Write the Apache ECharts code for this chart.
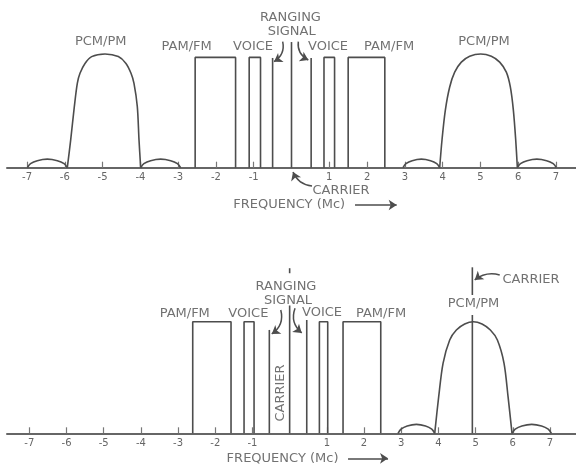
<!DOCTYPE html>
<html><head><meta charset="utf-8">
<script src="https://cdn.jsdelivr.net/npm/echarts@6/dist/echarts.min.js"></script>
<style>html,body{margin:0;padding:0;background:#fff}#c{width:576px;height:464px}</style>
</head><body><div id="c"></div>
<script>
// ---------- tick labels ----------
const tickValues = [-7,-6,-5,-4,-3,-2,-1,1,2,3,4,5,6,7];
const tickLabels = ['-7','-6','-5','-4','-3','-2','-1','1','2','3','4','5','6','7'];

// ---------- TOP panel (values: frequency Mc, relative amplitude) ----------
// rectangles: [fStart, fEnd, height]
const topRects = [[-2.55,-1.48,0.97],[-1.12,-0.82,0.97],[0.86,1.14,0.97],[1.50,2.47,0.97]];
// vertical lines: [f, height]
const topLines = [[-0.50,0.965],[0,1.105],[0.52,0.965]];
// PCM/PM main lobes
const topLobeL = [[-5.934,0],[-5.845,0.243],[-5.748,0.537],[-5.669,0.742],[-5.598,0.83],[-5.466,0.917],[-5.289,0.977],[-4.936,1.0],[-4.584,0.977],[-4.381,0.917],[-4.248,0.83],[-4.169,0.742],[-4.081,0.537],[-4.036,0.243],[-3.992,0]];
const topLobeR = [[3.922,0],[3.984,0.246],[4.072,0.507],[4.187,0.71],[4.319,0.84],[4.495,0.928],[4.716,0.98],[5.007,1.0],[5.289,0.98],[5.51,0.928],[5.686,0.84],[5.792,0.71],[5.872,0.507],[5.934,0.246],[5.978,0]];
// side lobes
const topSide = [
  [[-6.992,0],[-6.907,0.035],[-6.728,0.062],[-6.463,0.075],[-6.198,0.062],[-6.019,0.035],[-5.934,0]],
  [[-3.992,0],[-3.907,0.035],[-3.728,0.062],[-3.463,0.075],[-3.198,0.062],[-3.019,0.035],[-2.934,0]],
  [[2.951,0],[3.029,0.035],[3.194,0.062],[3.437,0.075],[3.68,0.062],[3.844,0.035],[3.922,0]],
  [[5.978,0],[6.061,0.035],[6.236,0.062],[6.494,0.075],[6.752,0.062],[6.927,0.035],[7.01,0]]
];
// arrows: [[f1,v1],[f2,v2],curveness]
const topArrows = [
  [[-0.233,1.108],[-0.463,0.932],0.35],
  [[0.18,1.108],[0.445,0.947],-0.35],
  [[0.543,-0.161],[0.04,-0.038],0.3],
  [[1.681,-0.328],[2.784,-0.328],0]
];
// text: [f, v, text]
const topTexts = [
  [-5.05,1.106,'PCM/PM'],[5.095,1.106,'PCM/PM'],
  [-2.774,1.062,'PAM/FM'],[2.581,1.062,'PAM/FM'],
  [-1.019,1.062,'VOICE'],[0.966,1.062,'VOICE'],
  [-0.026,1.317,'RANGING'],[0.005,1.193,'SIGNAL'],
  [1.31,-0.2,'CARRIER'],[-0.06,-0.328,'FREQUENCY (Mc)']
];

// ---------- BOTTOM panel ----------
const botRects = [[-2.606,-1.576,1.0],[-1.226,-0.957,1.0],[0.80,1.024,1.0],[1.436,2.45,1.0]];
const botLines = [[-0.546,0.926],[0,1.145],[0.46,1.015],[4.913,1.06]];
// floating segments: [f, vBottom, vTop]
const botSegs = [[0,1.434,1.479],[4.913,1.239,1.487]];
const botLobe = [[3.901,0],[4.008,0.328],[4.125,0.627],[4.304,0.836],[4.483,0.925],[4.707,0.979],[4.94,1.0],[5.173,0.979],[5.397,0.925],[5.586,0.836],[5.765,0.627],[5.873,0.328],[5.98,0]];
const botSide = [
  [[2.915,0],[2.994,0.037],[3.162,0.066],[3.408,0.08],[3.655,0.066],[3.822,0.037],[3.901,0]],
  [[5.98,0],[6.065,0.037],[6.245,0.066],[6.509,0.08],[6.774,0.066],[6.953,0.037],[7.038,0]]
];
const botArrows = [
  [[-0.239,1.105],[-0.481,0.89],0.35],
  [[0.145,1.12],[0.325,0.899],-0.35],
  [[5.649,1.418],[4.977,1.374],-0.25],
  [[1.57,-0.224],[2.646,-0.224],0]
];
const botTexts = [
  [4.945,1.159,'PCM/PM'],[6.491,1.38,'CARRIER'],
  [-2.821,1.075,'PAM/FM'],[2.458,1.075,'PAM/FM'],
  [-1.11,1.075,'VOICE'],[0.871,1.081,'VOICE'],
  [-0.097,1.314,'RANGING'],[-0.043,1.188,'SIGNAL'],
  [-0.191,-0.224,'FREQUENCY (Mc)']
];
const botVertTexts = [[-0.239,0.361,'CARRIER']];

// ---------- build ----------
const INK = '#4d4d4d';
const FONT = 'DejaVu Sans';
const series = [];
function addLine(pts, idx, smooth){
  series.push({type:'line', xAxisIndex:idx, yAxisIndex:idx, data:pts, showSymbol:false, symbol:'none',
    smooth: smooth || false,
    lineStyle:{color:INK, width:1.6}, clip:false, silent:true, z:3});
}
function addPanel(idx, rects, lines, segs, lobes, sides, arrows, texts, vtexts){
  rects.forEach(r => addLine([[r[0],0],[r[0],r[2]],[r[1],r[2]],[r[1],0]], idx, false));
  lines.forEach(l => addLine([[l[0],0],[l[0],l[1]]], idx, false));
  segs.forEach(s => addLine([[s[0],s[1]],[s[0],s[2]]], idx, false));
  lobes.forEach(l => addLine(l, idx, 0.3));
  sides.forEach(l => addLine(l, idx, 0.3));
  series.push({type:'lines', coordinateSystem:'cartesian2d', xAxisIndex:idx, yAxisIndex:idx, clip:false, silent:true,
    symbol:['none','arrow'], symbolSize:8, z:4,
    data: arrows.map(a => ({coords:[a[0],a[1]], lineStyle:{curveness:a[2]}})),
    lineStyle:{color:INK, width:1.5, opacity:1}});
  series.push({type:'scatter', xAxisIndex:idx, yAxisIndex:idx, symbolSize:0, clip:false, silent:true, z:5,
    data: texts.map(t => ({value:[t[0],t[1]], name:t[2]})).concat(vtexts.map(t => ({value:[t[0],t[1]], name:t[2], label:{rotate:90}}))),
    label:{show:true, position:'inside', formatter:p=>p.name, color:INK, fontSize:13, fontFamily:FONT, align:'center', verticalAlign:'middle'}});
}
addPanel(0, topRects, topLines, [], [topLobeL, topLobeR], topSide, topArrows, topTexts, []);
addPanel(1, botRects, botLines, botSegs, [botLobe], botSide, botArrows, botTexts, botVertTexts);

function xAx(idx, min, max){
  return {type:'value', gridIndex:idx, min:min, max:max,
    axisLine:{show:true, onZero:false, lineStyle:{color:'#666', width:2}},
    axisTick:{show:true, inside:true, length:6, customValues:tickValues, lineStyle:{color:'#777', width:1.2}},
    axisLabel:{show:true, margin:5, customValues:tickValues, color:'#666', fontSize:10, fontFamily:FONT,
      formatter: v => tickLabels[tickValues.indexOf(Math.round(v))] || ''},
    splitLine:{show:false}};
}
const chart = echarts.init(document.getElementById('c'), null, {renderer:'canvas'});
chart.setOption({
  animation:false, backgroundColor:'#fff',
  grid:[{left:7, width:569, top:8.5, height:159.2},{left:7, width:569, top:254.7, height:178.6}],
  xAxis:[xAx(0,-7.53,7.53), xAx(1,-7.6,7.7)],
  yAxis:[{type:'value', gridIndex:0, min:0, max:1.4, show:false},{type:'value', gridIndex:1, min:0, max:1.6, show:false}],
  series: series
});
</script></body></html>
